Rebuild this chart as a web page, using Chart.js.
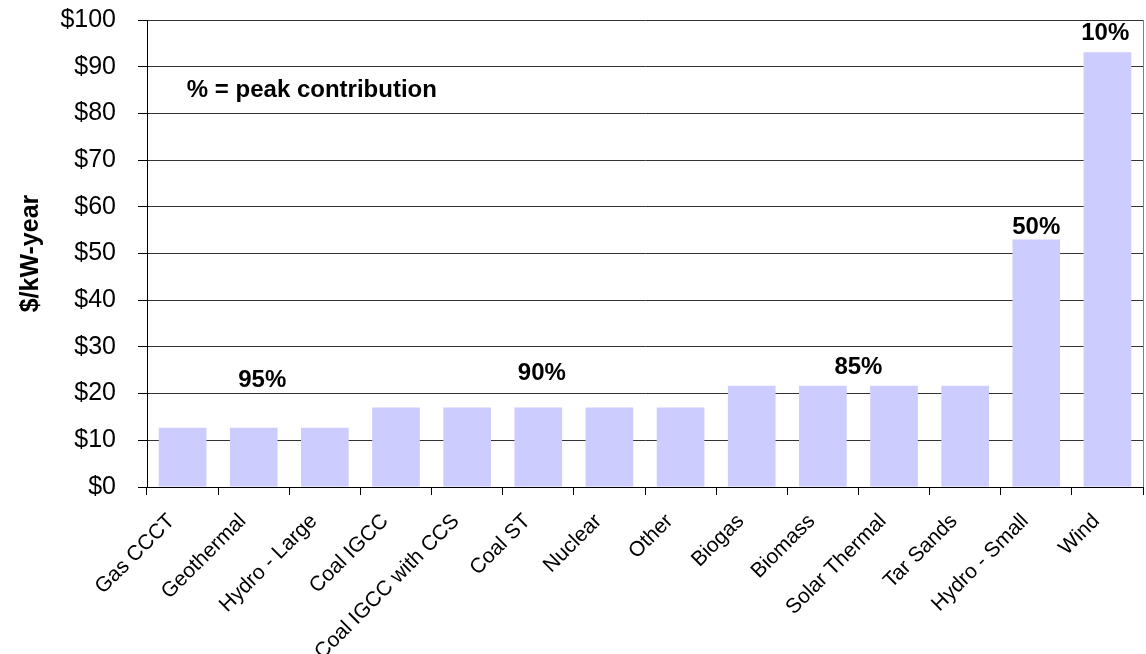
<!DOCTYPE html>
<html>
<head>
<meta charset="utf-8">
<script src="https://cdn.jsdelivr.net/npm/chart.js@4.4.0/dist/chart.umd.min.js"></script>
<style>
    html, body { margin: 0; padding: 0; background: #fff; }
    #wrap { width: 1146px; height: 654px; }
</style>
</head>
<body>
<div id="wrap"><canvas id="CapacityChart"></canvas></div>
<script>
var Categories = ['Gas CCCT', 'Geothermal', 'Hydro - Large', 'Coal IGCC', 'Coal IGCC with CCS', 'Coal ST',
    'Nuclear', 'Other', 'Biogas', 'Biomass', 'Solar Thermal', 'Tar Sands', 'Hydro - Small', 'Wind']
var CostPerKwYear = [12.7, 12.7, 12.7, 17.0, 17.0, 17.0, 17.0, 17.0, 21.7, 21.7, 21.7, 21.7, 53.0, 93.1]
var YTicks = [0, 10, 20, 30, 40, 50, 60, 70, 80, 90, 100]

// peak contribution notes, placed in data units (category index, $ value)
var NoteText = ['95%', '90%', '85%', '50%', '10%']
var NoteIndex = [1.12, 5.05, 9.5, 12, 12.97]
var NoteValue = [22.9, 24.4, 25.7, 55.7, 97.2]
var LegendNote = '% = peak contribution'

var FontName = '"Liberation Sans", Arial, sans-serif'

var notesPlugin = {
    id: 'notes',
    afterDatasetsDraw: function (chart) {
        var ctx = chart.ctx
        var x = chart.scales.x
        var y = chart.scales.y
        var step = x.getPixelForValue(1) - x.getPixelForValue(0)
        ctx.save()
        ctx.fillStyle = '#000'
        ctx.font = 'bold 24px ' + FontName
        ctx.textAlign = 'center'
        ctx.textBaseline = 'middle'
        for (var i = 0; i < NoteText.length; i++) {
            var px = x.getPixelForValue(0) + NoteIndex[i] * step
            ctx.fillText(NoteText[i], px, y.getPixelForValue(NoteValue[i]))
        }
        ctx.textAlign = 'left'
        ctx.fillText(LegendNote, x.getPixelForValue(0) + 0.06 * step, y.getPixelForValue(85))
        // right frame line
        ctx.strokeStyle = '#808080'
        ctx.lineWidth = 1
        ctx.beginPath()
        ctx.moveTo(chart.chartArea.right + 0.5, chart.chartArea.top)
        ctx.lineTo(chart.chartArea.right + 0.5, chart.chartArea.bottom)
        ctx.stroke()
        ctx.restore()
    }
}

var config_Capacity = {
    type: 'bar',
    data: {
        labels: Categories,
        datasets: [{
            label: '$/kW-year',
            data: CostPerKwYear,
            backgroundColor: '#CCCCFF',
            categoryPercentage: 1,
            barPercentage: 0.67,
        }],
    },
    plugins: [notesPlugin],
    options: {
        responsive: true,
        maintainAspectRatio: false,
        animation: false,
        layout: {
            padding: { top: 20, right: 3, left: 0, bottom: 0 }
        },
        plugins: {
            legend: { display: false },
            tooltip: { enabled: false },
        },
        scales: {
            x: {
                afterFit: function (scale) { scale.height = 167 },
                grid: {
                    offset: true,
                    drawOnChartArea: false,
                    tickLength: 8,
                    tickColor: '#000',
                },
                border: { color: '#000', width: 1 },
                ticks: {
                    color: '#000',
                    minRotation: 45,
                    maxRotation: 45,
                    autoSkip: false,
                    padding: 14,
                    labelOffset: -11,
                    font: { family: FontName, size: 21 },
                },
            },
            y: {
                min: 0,
                max: 100,
                afterFit: function (scale) {
                    scale.width = 147
                    // tick padding is large, keep it from pushing the plot down
                    scale.paddingTop = 0
                    scale.paddingBottom = 0
                },
                afterBuildTicks: function (scale) {
                    scale.ticks = YTicks.map(function (v) { return { value: v } })
                },
                grid: {
                    color: '#333',
                    tickLength: 9,
                    tickColor: '#000',
                },
                border: { color: '#000', width: 1 },
                ticks: {
                    color: '#000',
                    padding: 22,
                    font: { family: FontName, size: 25 },
                    callback: function (v) { return '$' + v },
                },
                title: {
                    display: true,
                    text: '$/kW-year',
                    color: '#000',
                    padding: { top: 16, bottom: 0 },
                    font: { family: FontName, size: 25, weight: 'bold' },
                },
            },
        }
    },
}

var CapacityChartElement = document.getElementById('CapacityChart').getContext('2d');
new Chart(CapacityChartElement, config_Capacity);
</script>
</body>
</html>
